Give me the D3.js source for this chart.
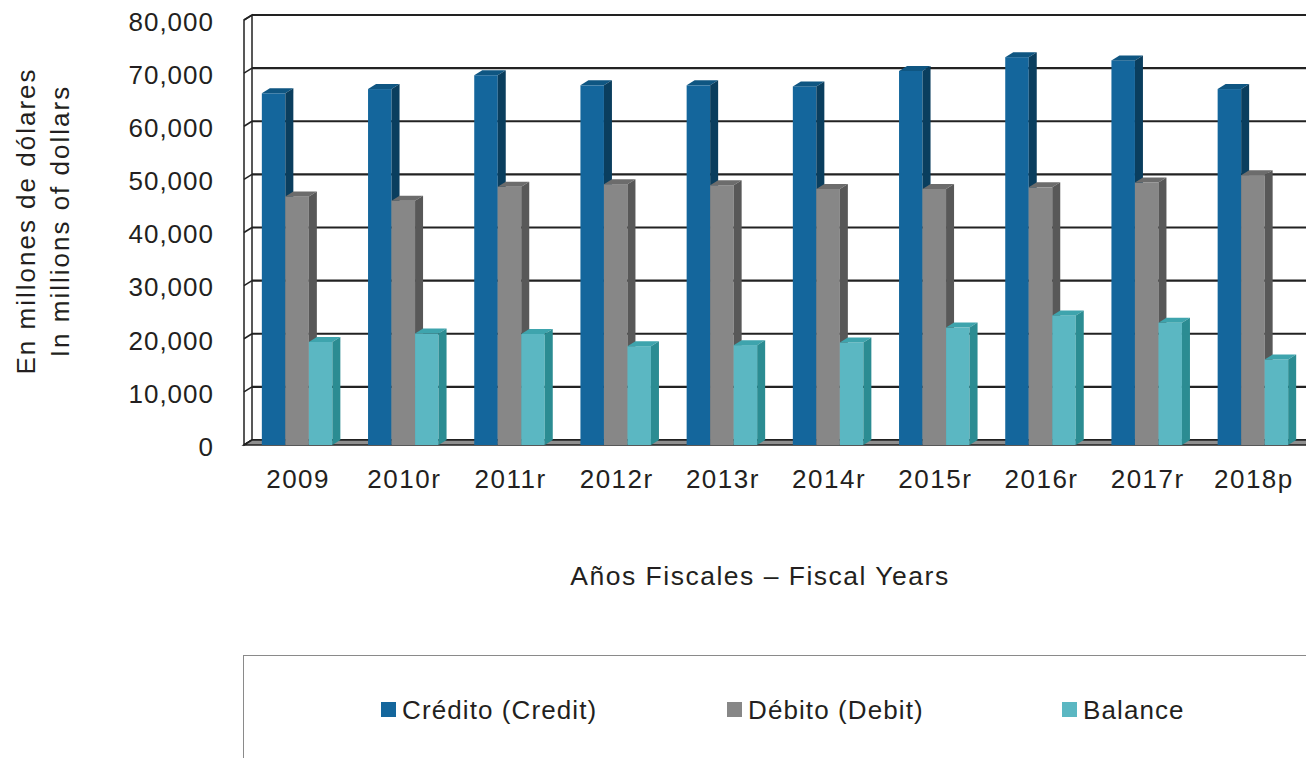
<!DOCTYPE html>
<html>
<head>
<meta charset="utf-8">
<script src="https://cdn.jsdelivr.net/npm/d3@7"></script>
<style>
  body { margin: 0; background: #fff; }
  svg { display: block; }
  text { font-family: "Liberation Sans", Arial, sans-serif; fill: #231f20; }
</style>
</head>
<body>
<script>
var years = ["2009", "2010r", "2011r", "2012r", "2013r", "2014r", "2015r", "2016r", "2017r", "2018p"];
var credit = [66200, 67000, 69600, 67700, 67700, 67500, 70400, 73000, 72400, 67000];
var debit = [46800, 46000, 48600, 49100, 48900, 48200, 48200, 48500, 49400, 50800];
var balance = [19400, 21000, 20900, 18600, 18800, 19300, 22100, 24400, 23000, 16100];
var seriesNames = ["Crédito (Credit)", "Débito (Debit)", "Balance"];
var yTicks = [0, 10000, 20000, 30000, 40000, 50000, 60000, 70000, 80000];

var width = 1306, height = 758;
// depth of the fake 3d: back plane sits this far right and up from the front
var dx = 8, dy = -5;

var colors = [
    {front: "#14669c", top: "#0f5682", side: "#0a3e5e"},
    {front: "#878787", top: "#6c6c6c", side: "#585858"},
    {front: "#5bb7c2", top: "#3ea4ad", side: "#2b8c92"}
];

var svg = d3.select("body").append("svg")
    .attr("width", width)
    .attr("height", height);

var x = d3.scaleBand()
    .domain(years)
    .range([252, 1314]);

var bw = x.bandwidth();
var groupW = bw * 0.664;

var x1 = d3.scaleBand()
    .domain([0, 1, 2])
    .range([(bw - groupW) / 2, (bw + groupW) / 2]);

var y = d3.scaleLinear()
    .domain([0, 80000])
    .range([440, 15]);

// left wall
svg.append("polygon")
    .attr("points", [[244, y(80000) - dy], [252, y(80000)], [252, y(0)], [244, y(0) - dy]].join(" "))
    .attr("fill", "#fff")
    .attr("stroke", "#222")
    .attr("stroke-width", 1.5);

svg.append("g").selectAll("line")
    .data(yTicks)
    .enter()
    .append("line")
        .attr("x1", 244)
        .attr("y1", (d) => y(d) - dy)
        .attr("x2", 252)
        .attr("y2", (d) => y(d))
        .attr("stroke", "#222")
        .attr("stroke-width", 1.5);

// gridlines on back wall
svg.append("g").selectAll("line")
    .data(yTicks)
    .enter()
    .append("line")
        .attr("x1", 252)
        .attr("x2", width)
        .attr("y1", (d) => y(d))
        .attr("y2", (d) => y(d))
        .attr("stroke", "#222")
        .attr("stroke-width", 2.2);

// floor
svg.append("polygon")
    .attr("points", [[244, y(0) - dy], [252, y(0)], [width + 8, y(0)], [width, y(0) - dy]].join(" "))
    .attr("fill", "#8e8e8e")
    .attr("stroke", "#222")
    .attr("stroke-width", 1.5);

// bars
var data = years.map(function(yr, i) {
    return [credit[i], debit[i], balance[i]];
});

var groups = svg.append("g").selectAll("g")
    .data(data)
    .enter()
    .append("g")
        .attr("transform", (d, i) => "translate(" + x(years[i]) + ",0)");

groups.each(function(vals) {
    var g = d3.select(this);
    vals.forEach(function(v, k) {
        var x0 = x1(k), w = x1.bandwidth();
        var yt = y(v), yb = y(0);
        // front face
        g.append("rect")
            .attr("x", x0 - dx)
            .attr("y", yt - dy)
            .attr("width", w)
            .attr("height", yb - yt)
            .attr("fill", colors[k].front);
        // top
        g.append("polygon")
            .attr("points", [[x0 - dx, yt - dy], [x0 - dx + w, yt - dy], [x0 + w, yt], [x0, yt]].join(" "))
            .attr("fill", colors[k].top);
        // side
        g.append("polygon")
            .attr("points", [[x0 - dx + w, yt - dy], [x0 + w, yt], [x0 + w, yb], [x0 - dx + w, yb - dy]].join(" "))
            .attr("fill", colors[k].side);
    });
});

// y axis labels
var yAxis = d3.axisLeft(y)
    .tickValues(yTicks)
    .tickFormat(d3.format(","))
    .tickSize(0)
    .tickPadding(30);

svg.append("g")
    .attr("transform", "translate(244,7)")
    .call(yAxis)
    .call((g) => g.select(".domain").remove())
    .selectAll("text")
        .attr("font-size", 26)
        .attr("letter-spacing", 1)
        .attr("font-family", "Liberation Sans, Arial, sans-serif")
        .attr("fill", "#231f20");

// x axis labels
var xAxis = d3.axisBottom(x)
    .tickSize(0)
    .tickPadding(0);

svg.append("g")
    .attr("transform", "translate(" + (-dx + 1) + ",470)")
    .call(xAxis)
    .call((g) => g.select(".domain").remove())
    .selectAll("text")
        .attr("font-size", 26)
        .attr("letter-spacing", 1.5)
        .attr("font-family", "Liberation Sans, Arial, sans-serif")
        .attr("fill", "#231f20");

// titles
svg.append("text")
    .text("Años Fiscales – Fiscal Years")
    .attr("x", 760)
    .attr("y", 576)
    .attr("text-anchor", "middle")
    .attr("dominant-baseline", "central")
    .attr("font-size", 26.5)
    .attr("letter-spacing", 1.5);

svg.append("text")
    .text("En millones de dólares")
    .attr("transform", "translate(26,221) rotate(-90)")
    .attr("text-anchor", "middle")
    .attr("dominant-baseline", "central")
    .attr("font-size", 26)
    .attr("letter-spacing", 2);

svg.append("text")
    .text("In millions of dollars")
    .attr("transform", "translate(60,221) rotate(-90)")
    .attr("text-anchor", "middle")
    .attr("dominant-baseline", "central")
    .attr("font-size", 26)
    .attr("letter-spacing", 2);

// legend
svg.append("rect")
    .attr("x", 243.5)
    .attr("y", 655.5)
    .attr("width", 1100)
    .attr("height", 200)
    .attr("fill", "none")
    .attr("stroke", "#8a8a8a")
    .attr("stroke-width", 1);

var legendX = [381, 727, 1062];

var legend = svg.append("g").selectAll("g")
    .data(seriesNames)
    .enter()
    .append("g")
        .attr("transform", (d, i) => "translate(" + legendX[i] + ",702)");

legend.append("rect")
    .attr("width", 15)
    .attr("height", 15)
    .attr("fill", (d, i) => colors[i].front);

legend.append("text")
    .text((d) => d)
    .attr("x", 21)
    .attr("y", 8)
    .attr("dominant-baseline", "central")
    .attr("font-size", 26)
    .attr("letter-spacing", 1.1);
</script>
</body>
</html>
